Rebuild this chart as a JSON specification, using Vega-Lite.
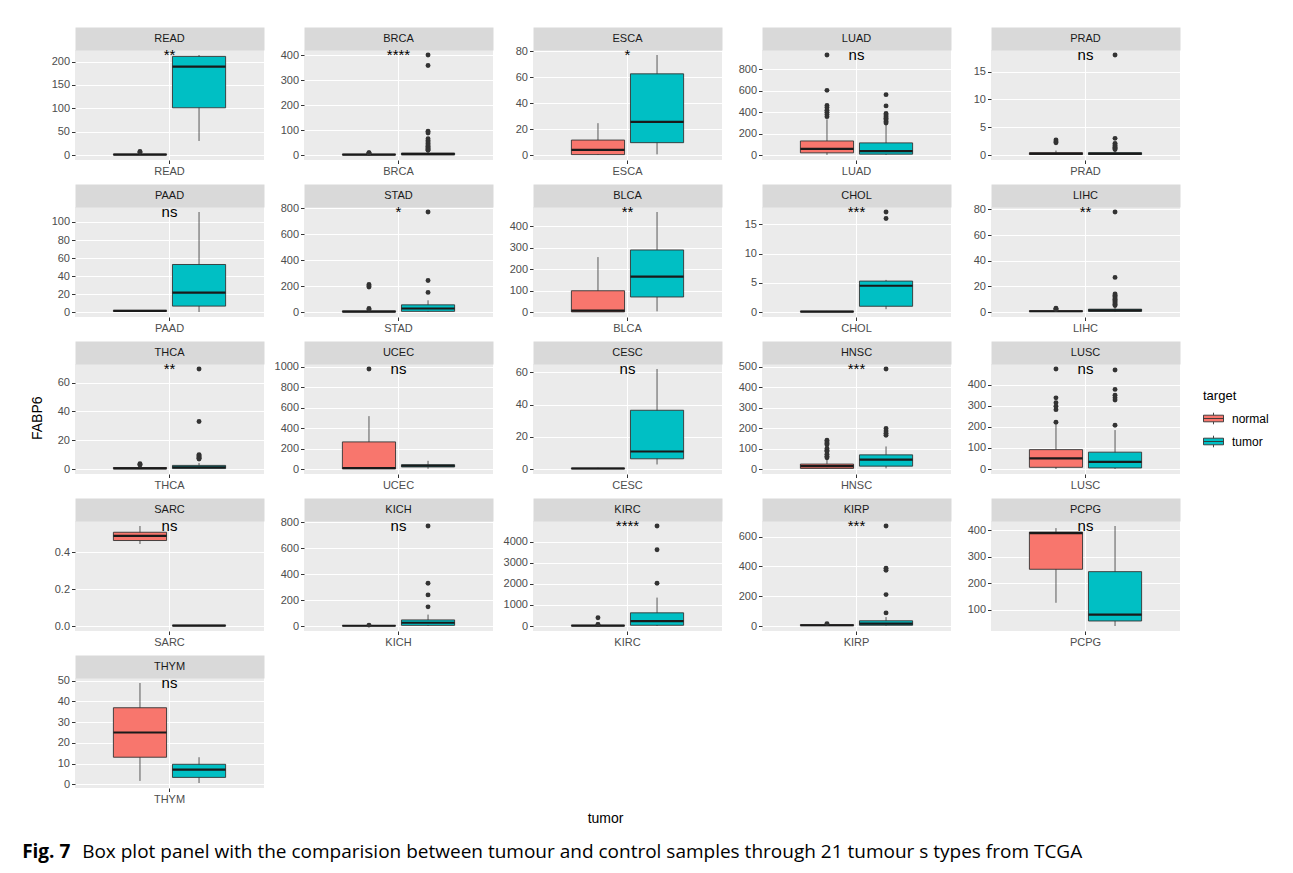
{
  "$schema": "https://vega.github.io/schema/vega-lite/v6.json",
  "background": "white",
  "padding": {"left": 22, "top": 32, "right": 10, "bottom": 5},
  "title": {
    "text": "Box plot panel with the comparision between tumour and control samples through 21 tumour s types from TCGA",
    "orient": "bottom",
    "anchor": "start",
    "font": "Open Sans",
    "fontSize": 19,
    "fontWeight": "normal",
    "color": "#000000",
    "offset": -19,
    "dx": 60
  },
  "data": {
    "values": [
      {"k": "b", "t": "READ", "g": "normal", "lo": 0, "q1": 0.5, "md": 1, "q3": 2, "hi": 4},
      {"k": "b", "t": "READ", "g": "tumor", "lo": 30, "q1": 101, "md": 189, "q3": 211, "hi": 214},
      {"k": "b", "t": "BRCA", "g": "normal", "lo": 0, "q1": 0.5, "md": 1.5, "q3": 3, "hi": 6},
      {"k": "b", "t": "BRCA", "g": "tumor", "lo": 0, "q1": 1, "md": 3.5, "q3": 8, "hi": 17},
      {"k": "b", "t": "ESCA", "g": "normal", "lo": 0, "q1": 0.3, "md": 4, "q3": 11.5, "hi": 24.5},
      {"k": "b", "t": "ESCA", "g": "tumor", "lo": 0.5, "q1": 9.5, "md": 25.5, "q3": 62.5, "hi": 77},
      {"k": "b", "t": "LUAD", "g": "normal", "lo": 3, "q1": 22, "md": 60, "q3": 133, "hi": 335},
      {"k": "b", "t": "LUAD", "g": "tumor", "lo": 2, "q1": 10, "md": 38, "q3": 115, "hi": 290},
      {"k": "b", "t": "PRAD", "g": "normal", "lo": 0, "q1": 0.1, "md": 0.25, "q3": 0.4, "hi": 0.8},
      {"k": "b", "t": "PRAD", "g": "tumor", "lo": 0, "q1": 0.1, "md": 0.25, "q3": 0.4, "hi": 0.9},
      {"k": "b", "t": "PAAD", "g": "normal", "lo": 1, "q1": 1.3, "md": 1.8, "q3": 2.3, "hi": 2.6},
      {"k": "b", "t": "PAAD", "g": "tumor", "lo": 0.5, "q1": 7, "md": 22, "q3": 53, "hi": 111},
      {"k": "b", "t": "STAD", "g": "normal", "lo": 0, "q1": 1, "md": 3, "q3": 8, "hi": 16},
      {"k": "b", "t": "STAD", "g": "tumor", "lo": 0, "q1": 5, "md": 27, "q3": 55, "hi": 90},
      {"k": "b", "t": "BLCA", "g": "normal", "lo": 0, "q1": 0.5, "md": 6, "q3": 99, "hi": 256},
      {"k": "b", "t": "BLCA", "g": "tumor", "lo": 3, "q1": 70, "md": 165, "q3": 289, "hi": 466},
      {"k": "b", "t": "CHOL", "g": "normal", "lo": 0.02, "q1": 0.05, "md": 0.1, "q3": 0.15, "hi": 0.2},
      {"k": "b", "t": "CHOL", "g": "tumor", "lo": 0.5, "q1": 1, "md": 4.5, "q3": 5.3, "hi": 5.5},
      {"k": "b", "t": "LIHC", "g": "normal", "lo": 0, "q1": 0.3, "md": 0.6, "q3": 1, "hi": 1.8},
      {"k": "b", "t": "LIHC", "g": "tumor", "lo": 0, "q1": 0.5, "md": 1.2, "q3": 2.2, "hi": 4.5},
      {"k": "b", "t": "THCA", "g": "normal", "lo": 0, "q1": 0.2, "md": 0.5, "q3": 1, "hi": 2},
      {"k": "b", "t": "THCA", "g": "tumor", "lo": 0, "q1": 0.3, "md": 1.2, "q3": 2.5, "hi": 4.2},
      {"k": "b", "t": "UCEC", "g": "normal", "lo": 0, "q1": 0.5, "md": 10, "q3": 265, "hi": 517},
      {"k": "b", "t": "UCEC", "g": "tumor", "lo": 2, "q1": 20, "md": 32, "q3": 42, "hi": 80},
      {"k": "b", "t": "CESC", "g": "normal", "lo": 0.2, "q1": 0.3, "md": 0.5, "q3": 0.8, "hi": 1},
      {"k": "b", "t": "CESC", "g": "tumor", "lo": 3, "q1": 6.5, "md": 11, "q3": 36.5, "hi": 62},
      {"k": "b", "t": "HNSC", "g": "normal", "lo": 0, "q1": 3, "md": 14, "q3": 24, "hi": 50},
      {"k": "b", "t": "HNSC", "g": "tumor", "lo": 3, "q1": 14, "md": 46, "q3": 69, "hi": 110},
      {"k": "b", "t": "LUSC", "g": "normal", "lo": 0, "q1": 8, "md": 50, "q3": 92, "hi": 212},
      {"k": "b", "t": "LUSC", "g": "tumor", "lo": 0, "q1": 5, "md": 34, "q3": 80, "hi": 185},
      {"k": "b", "t": "SARC", "g": "normal", "lo": 0.446, "q1": 0.465, "md": 0.49, "q3": 0.51, "hi": 0.544},
      {"k": "b", "t": "SARC", "g": "tumor", "lo": 0, "q1": 0.001, "md": 0.002, "q3": 0.004, "hi": 0.006},
      {"k": "b", "t": "KICH", "g": "normal", "lo": 0, "q1": 1, "md": 2, "q3": 3, "hi": 5},
      {"k": "b", "t": "KICH", "g": "tumor", "lo": 0, "q1": 5, "md": 25, "q3": 47, "hi": 88},
      {"k": "b", "t": "KIRC", "g": "normal", "lo": 0, "q1": 5, "md": 15, "q3": 30, "hi": 60},
      {"k": "b", "t": "KIRC", "g": "tumor", "lo": 0, "q1": 35, "md": 236, "q3": 625, "hi": 1350},
      {"k": "b", "t": "KIRP", "g": "normal", "lo": 0, "q1": 2, "md": 5, "q3": 9, "hi": 12},
      {"k": "b", "t": "KIRP", "g": "tumor", "lo": 0, "q1": 5, "md": 16, "q3": 35, "hi": 60},
      {"k": "b", "t": "PCPG", "g": "normal", "lo": 126, "q1": 253, "md": 390, "q3": 394, "hi": 409},
      {"k": "b", "t": "PCPG", "g": "tumor", "lo": 38, "q1": 57, "md": 81, "q3": 244, "hi": 417},
      {"k": "b", "t": "THYM", "g": "normal", "lo": 1.7, "q1": 13.1, "md": 25, "q3": 36.9, "hi": 48.8},
      {"k": "b", "t": "THYM", "g": "tumor", "lo": 0.7, "q1": 3.4, "md": 7.1, "q3": 9.7, "hi": 13.1},

      {"k": "o", "t": "READ", "g": "normal", "v": 7.5},
      {"k": "o", "t": "READ", "g": "normal", "v": 6},
      {"k": "o", "t": "BRCA", "g": "normal", "v": 9},
      {"k": "o", "t": "BRCA", "g": "normal", "v": 8},
      {"k": "o", "t": "BRCA", "g": "normal", "v": 7},
      {"k": "o", "t": "BRCA", "g": "tumor", "v": 400},
      {"k": "o", "t": "BRCA", "g": "tumor", "v": 358},
      {"k": "o", "t": "BRCA", "g": "tumor", "v": 95},
      {"k": "o", "t": "BRCA", "g": "tumor", "v": 88},
      {"k": "o", "t": "BRCA", "g": "tumor", "v": 65},
      {"k": "o", "t": "BRCA", "g": "tumor", "v": 58},
      {"k": "o", "t": "BRCA", "g": "tumor", "v": 52},
      {"k": "o", "t": "BRCA", "g": "tumor", "v": 46},
      {"k": "o", "t": "BRCA", "g": "tumor", "v": 40},
      {"k": "o", "t": "BRCA", "g": "tumor", "v": 35},
      {"k": "o", "t": "BRCA", "g": "tumor", "v": 30},
      {"k": "o", "t": "BRCA", "g": "tumor", "v": 26},
      {"k": "o", "t": "BRCA", "g": "tumor", "v": 22},
      {"k": "o", "t": "BRCA", "g": "tumor", "v": 19},
      {"k": "o", "t": "LUAD", "g": "normal", "v": 935},
      {"k": "o", "t": "LUAD", "g": "normal", "v": 605},
      {"k": "o", "t": "LUAD", "g": "normal", "v": 465},
      {"k": "o", "t": "LUAD", "g": "normal", "v": 445},
      {"k": "o", "t": "LUAD", "g": "normal", "v": 420},
      {"k": "o", "t": "LUAD", "g": "normal", "v": 400},
      {"k": "o", "t": "LUAD", "g": "normal", "v": 380},
      {"k": "o", "t": "LUAD", "g": "normal", "v": 360},
      {"k": "o", "t": "LUAD", "g": "tumor", "v": 565},
      {"k": "o", "t": "LUAD", "g": "tumor", "v": 460},
      {"k": "o", "t": "LUAD", "g": "tumor", "v": 390},
      {"k": "o", "t": "LUAD", "g": "tumor", "v": 375},
      {"k": "o", "t": "LUAD", "g": "tumor", "v": 360},
      {"k": "o", "t": "LUAD", "g": "tumor", "v": 345},
      {"k": "o", "t": "LUAD", "g": "tumor", "v": 330},
      {"k": "o", "t": "LUAD", "g": "tumor", "v": 315},
      {"k": "o", "t": "LUAD", "g": "tumor", "v": 300},
      {"k": "o", "t": "PRAD", "g": "normal", "v": 2.7},
      {"k": "o", "t": "PRAD", "g": "normal", "v": 2.4},
      {"k": "o", "t": "PRAD", "g": "normal", "v": 2.2},
      {"k": "o", "t": "PRAD", "g": "tumor", "v": 18},
      {"k": "o", "t": "PRAD", "g": "tumor", "v": 3},
      {"k": "o", "t": "PRAD", "g": "tumor", "v": 2.1},
      {"k": "o", "t": "PRAD", "g": "tumor", "v": 1.8},
      {"k": "o", "t": "PRAD", "g": "tumor", "v": 1.6},
      {"k": "o", "t": "PRAD", "g": "tumor", "v": 1.4},
      {"k": "o", "t": "PRAD", "g": "tumor", "v": 1.2},
      {"k": "o", "t": "PRAD", "g": "tumor", "v": 1},
      {"k": "o", "t": "STAD", "g": "normal", "v": 212},
      {"k": "o", "t": "STAD", "g": "normal", "v": 200},
      {"k": "o", "t": "STAD", "g": "normal", "v": 192},
      {"k": "o", "t": "STAD", "g": "normal", "v": 27},
      {"k": "o", "t": "STAD", "g": "normal", "v": 20},
      {"k": "o", "t": "STAD", "g": "tumor", "v": 770},
      {"k": "o", "t": "STAD", "g": "tumor", "v": 242},
      {"k": "o", "t": "STAD", "g": "tumor", "v": 151},
      {"k": "o", "t": "CHOL", "g": "tumor", "v": 17.1},
      {"k": "o", "t": "CHOL", "g": "tumor", "v": 16},
      {"k": "o", "t": "LIHC", "g": "normal", "v": 3},
      {"k": "o", "t": "LIHC", "g": "normal", "v": 2.4},
      {"k": "o", "t": "LIHC", "g": "normal", "v": 2},
      {"k": "o", "t": "LIHC", "g": "tumor", "v": 78},
      {"k": "o", "t": "LIHC", "g": "tumor", "v": 27},
      {"k": "o", "t": "LIHC", "g": "tumor", "v": 14},
      {"k": "o", "t": "LIHC", "g": "tumor", "v": 13},
      {"k": "o", "t": "LIHC", "g": "tumor", "v": 12},
      {"k": "o", "t": "LIHC", "g": "tumor", "v": 11},
      {"k": "o", "t": "LIHC", "g": "tumor", "v": 10},
      {"k": "o", "t": "LIHC", "g": "tumor", "v": 9},
      {"k": "o", "t": "LIHC", "g": "tumor", "v": 8},
      {"k": "o", "t": "LIHC", "g": "tumor", "v": 7},
      {"k": "o", "t": "LIHC", "g": "tumor", "v": 6},
      {"k": "o", "t": "LIHC", "g": "tumor", "v": 5},
      {"k": "o", "t": "THCA", "g": "normal", "v": 3.7},
      {"k": "o", "t": "THCA", "g": "normal", "v": 3.2},
      {"k": "o", "t": "THCA", "g": "normal", "v": 2.7},
      {"k": "o", "t": "THCA", "g": "tumor", "v": 69.5},
      {"k": "o", "t": "THCA", "g": "tumor", "v": 33},
      {"k": "o", "t": "THCA", "g": "tumor", "v": 10},
      {"k": "o", "t": "THCA", "g": "tumor", "v": 9.3},
      {"k": "o", "t": "THCA", "g": "tumor", "v": 8.7},
      {"k": "o", "t": "THCA", "g": "tumor", "v": 8},
      {"k": "o", "t": "THCA", "g": "tumor", "v": 7.4},
      {"k": "o", "t": "THCA", "g": "tumor", "v": 7},
      {"k": "o", "t": "UCEC", "g": "normal", "v": 978},
      {"k": "o", "t": "HNSC", "g": "normal", "v": 140},
      {"k": "o", "t": "HNSC", "g": "normal", "v": 132},
      {"k": "o", "t": "HNSC", "g": "normal", "v": 125},
      {"k": "o", "t": "HNSC", "g": "normal", "v": 118},
      {"k": "o", "t": "HNSC", "g": "normal", "v": 100},
      {"k": "o", "t": "HNSC", "g": "normal", "v": 92},
      {"k": "o", "t": "HNSC", "g": "normal", "v": 85},
      {"k": "o", "t": "HNSC", "g": "normal", "v": 72},
      {"k": "o", "t": "HNSC", "g": "normal", "v": 62},
      {"k": "o", "t": "HNSC", "g": "normal", "v": 55},
      {"k": "o", "t": "HNSC", "g": "tumor", "v": 488},
      {"k": "o", "t": "HNSC", "g": "tumor", "v": 198},
      {"k": "o", "t": "HNSC", "g": "tumor", "v": 185},
      {"k": "o", "t": "HNSC", "g": "tumor", "v": 175},
      {"k": "o", "t": "HNSC", "g": "tumor", "v": 165},
      {"k": "o", "t": "LUSC", "g": "normal", "v": 475},
      {"k": "o", "t": "LUSC", "g": "normal", "v": 338},
      {"k": "o", "t": "LUSC", "g": "normal", "v": 315},
      {"k": "o", "t": "LUSC", "g": "normal", "v": 298},
      {"k": "o", "t": "LUSC", "g": "normal", "v": 282},
      {"k": "o", "t": "LUSC", "g": "normal", "v": 222},
      {"k": "o", "t": "LUSC", "g": "tumor", "v": 470},
      {"k": "o", "t": "LUSC", "g": "tumor", "v": 378},
      {"k": "o", "t": "LUSC", "g": "tumor", "v": 350},
      {"k": "o", "t": "LUSC", "g": "tumor", "v": 338},
      {"k": "o", "t": "LUSC", "g": "tumor", "v": 328},
      {"k": "o", "t": "LUSC", "g": "tumor", "v": 208},
      {"k": "o", "t": "KICH", "g": "normal", "v": 7},
      {"k": "o", "t": "KICH", "g": "tumor", "v": 772},
      {"k": "o", "t": "KICH", "g": "tumor", "v": 330},
      {"k": "o", "t": "KICH", "g": "tumor", "v": 240},
      {"k": "o", "t": "KICH", "g": "tumor", "v": 148},
      {"k": "o", "t": "KIRC", "g": "normal", "v": 390},
      {"k": "o", "t": "KIRC", "g": "normal", "v": 75},
      {"k": "o", "t": "KIRC", "g": "normal", "v": 65},
      {"k": "o", "t": "KIRC", "g": "tumor", "v": 4750},
      {"k": "o", "t": "KIRC", "g": "tumor", "v": 3620},
      {"k": "o", "t": "KIRC", "g": "tumor", "v": 2030},
      {"k": "o", "t": "KIRP", "g": "normal", "v": 16},
      {"k": "o", "t": "KIRP", "g": "tumor", "v": 672},
      {"k": "o", "t": "KIRP", "g": "tumor", "v": 388},
      {"k": "o", "t": "KIRP", "g": "tumor", "v": 375},
      {"k": "o", "t": "KIRP", "g": "tumor", "v": 211},
      {"k": "o", "t": "KIRP", "g": "tumor", "v": 88},

      {"k": "l", "t": "READ", "lab": "**", "v": 214},
      {"k": "l", "t": "BRCA", "lab": "****", "v": 400},
      {"k": "l", "t": "ESCA", "lab": "*", "v": 77},
      {"k": "l", "t": "LUAD", "lab": "ns", "v": 935},
      {"k": "l", "t": "PRAD", "lab": "ns", "v": 18},
      {"k": "l", "t": "PAAD", "lab": "ns", "v": 111},
      {"k": "l", "t": "STAD", "lab": "*", "v": 770},
      {"k": "l", "t": "BLCA", "lab": "**", "v": 466},
      {"k": "l", "t": "CHOL", "lab": "***", "v": 17.1},
      {"k": "l", "t": "LIHC", "lab": "**", "v": 78},
      {"k": "l", "t": "THCA", "lab": "**", "v": 69.5},
      {"k": "l", "t": "UCEC", "lab": "ns", "v": 978},
      {"k": "l", "t": "CESC", "lab": "ns", "v": 62},
      {"k": "l", "t": "HNSC", "lab": "***", "v": 488},
      {"k": "l", "t": "LUSC", "lab": "ns", "v": 475},
      {"k": "l", "t": "SARC", "lab": "ns", "v": 0.544},
      {"k": "l", "t": "KICH", "lab": "ns", "v": 772},
      {"k": "l", "t": "KIRC", "lab": "****", "v": 4750},
      {"k": "l", "t": "KIRP", "lab": "***", "v": 672},
      {"k": "l", "t": "PCPG", "lab": "ns", "v": 417},
      {"k": "l", "t": "THYM", "lab": "ns", "v": 48.8}
    ]
  },
  "vconcat": [
    {
      "title": {"text": "Fig. 7", "orient": "bottom", "anchor": "start", "font": "Open Sans", "fontSize": 19, "fontWeight": "bold", "color": "#000000", "offset": 17, "dx": -9},
      "vconcat": [
        {
          "title": {"text": "tumor", "orient": "bottom", "anchor": "middle", "fontSize": 14, "fontWeight": "normal", "color": "#000000", "offset": 8},
          "vconcat": [
            {
              "title": {"text": "FABP6", "orient": "left", "anchor": "middle", "fontSize": 14, "fontWeight": "normal", "color": "#000000", "offset": 6},
              "facet": {
                "field": "t",
                "type": "nominal",
                "title": null,
                "header": {"labels": false, "labelExpr": "''", "labelFontSize": 0, "labelPadding": 0},
                "sort": ["READ", "BRCA", "ESCA", "LUAD", "PRAD", "PAAD", "STAD", "BLCA", "CHOL", "LIHC", "THCA", "UCEC", "CESC", "HNSC", "LUSC", "SARC", "KICH", "KIRC", "KIRP", "PCPG", "THYM"]
              },
              "columns": 5,
              "bounds": "flush",
              "spacing": {"row": 47, "column": 40},
              "resolve": {"scale": {"x": "independent", "y": "independent", "xOffset": "independent"}},
              "spec": {
                "width": 189,
                "height": 110,
                "resolve": {"axis": {"x": "independent"}},
                "layer": [
                  {
                    "transform": [{"filter": "datum.k == 'b'"}],
                    "mark": {"type": "rule", "color": "#333333", "strokeWidth": 0.8},
                    "encoding": {
                      "x": {
                        "field": "t", "type": "nominal", "title": null,
                        "scale": {"paddingInner": 0, "paddingOuter": 0.3},
                        "axis": {"orient": "bottom", "bandPosition": 0.5, "grid": true, "labelAngle": 0, "labelPadding": 1.5}
                      },
                      "xOffset": {"field": "g", "type": "nominal", "sort": ["normal", "tumor"], "scale": {"paddingInner": 0.1, "paddingOuter": 0.05}},
                      "y": {"field": "lo", "type": "quantitative", "title": null, "scale": {"zero": false, "nice": false, "padding": 5}},
                      "y2": {"field": "hi"}
                    }
                  },
                  {
                    "transform": [{"filter": "datum.k == 'b'"}],
                    "mark": {"type": "bar", "stroke": "#333333", "strokeWidth": 0.9},
                    "encoding": {
                      "x": {"field": "t", "type": "nominal", "title": null, "axis": null},
                      "xOffset": {"field": "g", "type": "nominal", "sort": ["normal", "tumor"]},
                      "y": {"field": "q1", "type": "quantitative", "title": null},
                      "y2": {"field": "q3"},
                      "fill": {
                        "field": "g", "type": "nominal",
                        "scale": {"domain": ["normal", "tumor"], "range": ["#F8766D", "#00BFC4"]},
                        "legend": {"title": "target", "orient": "none", "legendX": 1128, "legendY": 340}
                      }
                    }
                  },
                  {
                    "transform": [{"filter": "datum.k == 'b'"}],
                    "mark": {"type": "bar", "fill": "transparent", "stroke": "#1A1A1A", "strokeWidth": 2.2},
                    "encoding": {
                      "x": {
                        "field": "t", "type": "nominal", "title": null,
                        "axis": {"orient": "top", "ticks": false, "labels": false, "grid": false, "domain": true, "domainColor": "#D9D9D9", "domainWidth": 23, "domainCap": "butt", "offset": 11.5, "zindex": 0}
                      },
                      "xOffset": {"field": "g", "type": "nominal", "sort": ["normal", "tumor"]},
                      "y": {"field": "md", "type": "quantitative", "title": null},
                      "y2": {"field": "md"}
                    }
                  },
                  {
                    "transform": [{"filter": "datum.k == 'o'"}],
                    "mark": {"type": "point", "filled": true, "color": "#333333", "opacity": 1, "size": 24},
                    "encoding": {
                      "x": {"field": "t", "type": "nominal", "title": null, "axis": null},
                      "xOffset": {"field": "g", "type": "nominal", "sort": ["normal", "tumor"]},
                      "y": {"field": "v", "type": "quantitative", "title": null}
                    }
                  },
                  {
                    "transform": [{"filter": "datum.k == 'l'"}],
                    "mark": {"type": "text", "fontSize": 15, "color": "#000000", "baseline": "middle"},
                    "encoding": {
                      "x": {
                        "field": "t", "type": "nominal", "title": null,
                        "axis": {"orient": "top", "ticks": false, "tickSize": 0, "grid": false, "domain": false, "offset": 11.5, "labelPadding": 0, "labelBaseline": "middle", "labelColor": "#1A1A1A", "labelFontSize": 11, "labelAngle": 0, "zindex": 1}
                      },
                      "y": {"field": "v", "type": "quantitative", "title": null},
                      "text": {"field": "lab"}
                    }
                  }
                ]
              }
            }
          ]
        }
      ]
    }
  ],
  "config": {
    "font": "Liberation Sans",
    "view": {"fill": "#EBEBEB", "stroke": null},
    "header": {"labels": false},
    "headerFacet": {"labels": false},
    "axis": {
      "domain": false,
      "tickColor": "#333333",
      "tickSize": 3.5,
      "tickWidth": 1,
      "labelColor": "#4D4D4D",
      "labelFontSize": 11,
      "gridColor": "#FFFFFF",
      "gridWidth": 1.1
    },
    "axisY": {"tickCount": 4, "labelPadding": 2, "labelExpr": "replace(datum.label, ',', '')"},
    "legend": {
      "titleFontSize": 13,
      "titleFontWeight": "normal",
      "titleColor": "#000000",
      "labelFontSize": 12,
      "labelColor": "#000000",
      "symbolType": "M-1,-0.33H1V0.33H-1Z M-1,0H1 M0,-0.33V-0.58 M0,0.33V0.58",
      "symbolSize": 400,
      "symbolStrokeColor": "#333333",
      "symbolStrokeWidth": 0.9,
      "rowPadding": 4,
      "labelOffset": 8
    }
  }
}
